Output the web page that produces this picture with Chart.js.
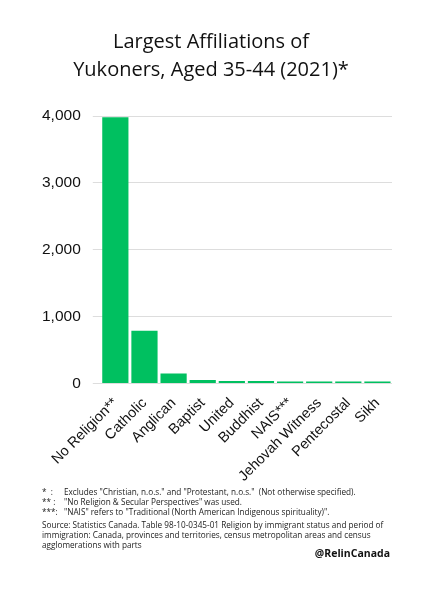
<!DOCTYPE html>
<html><head><meta charset="utf-8">
<script src="https://cdn.jsdelivr.net/npm/chart.js@4"></script>
<style>
body{margin:0;background:#fff;font-family:"Open Sans",sans-serif;}
#wrap{position:absolute;left:20px;top:20px;width:390px;height:468px;}
#notes{position:absolute;left:42px;top:487px;width:360px;font-size:8.2px;line-height:10px;color:#222;}
#notes .fn span{display:inline-block;width:22px;}
#handle{position:absolute;right:40px;top:546px;font-weight:bold;font-size:10.5px;color:#111;}
</style></head><body>
<div id="wrap"><canvas id="c"></canvas></div>
<div id="notes">
<div class="fn"><span>* &nbsp;:</span>Excludes "Christian, n.o.s." and "Protestant, n.o.s." &nbsp;(Not otherwise specified).</div>
<div class="fn"><span>** :</span>"No Religion &amp; Secular Perspectives" was used.</div>
<div class="fn"><span>***:</span>"NAIS" refers to "Traditional (North American Indigenous spirituality)".</div>
<div style="margin-top:3px">Source: Statistics Canada. Table 98-10-0345-01 Religion by immigrant status and period of immigration: Canada, provinces and territories, census metropolitan areas and census agglomerations with parts</div>
</div>
<div id="handle">@RelinCanada</div>
<script>
const categories=["No Religion**","Catholic","Anglican","Baptist","United","Buddhist","NAIS***","Jehovah Witness","Pentecostal","Sikh"];
const values=[3980,790,150,55,40,40,30,30,30,30];
const yTicks=[0,1000,2000,3000,4000];
new Chart(document.getElementById('c'),{type:'bar',
data:{labels:categories,datasets:[{data:values,backgroundColor:'#00c060',barPercentage:0.9,categoryPercentage:1}]},
options:{responsive:true,maintainAspectRatio:false,animation:false,
layout:{padding:{right:18,left:10}},
plugins:{legend:{display:false},title:{display:true,text:['Largest Affiliations of','Yukoners, Aged 35-44 (2021)*'],font:{size:20,family:'Open Sans',weight:'normal',lineHeight:1.4},color:'#111',padding:{top:8,bottom:32}}},
scales:{x:{grid:{display:false},border:{display:false},ticks:{color:'#111',font:{size:14.5},maxRotation:45,minRotation:45,autoSkip:false}},
y:{min:0,max:4000,afterBuildTicks:a=>{a.ticks=yTicks.map(v=>({value:v}));},grid:{color:'#ddd'},border:{display:false},ticks:{color:'#111',font:{size:15.5},padding:12}}}}});
</script></body></html>
